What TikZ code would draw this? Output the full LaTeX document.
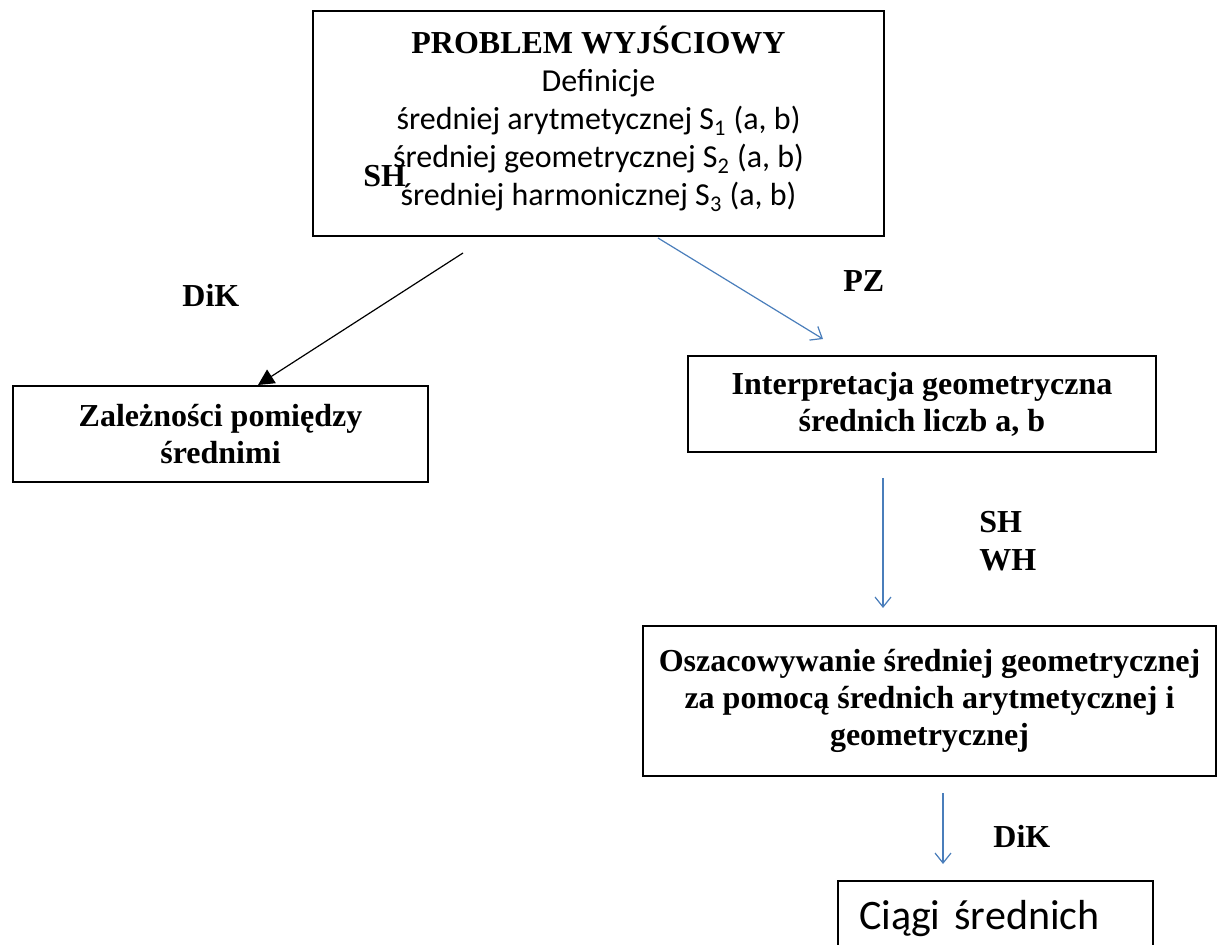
\documentclass[tikz,border=0pt]{standalone}
\usepackage{fontspec}
\setmainfont{Liberation Serif}
\newfontfamily\calibri{Carlito}
\usetikzlibrary{calc,arrows.meta}
\definecolor{wordblue}{HTML}{4A7EBB}
\tikzset{
  box/.style={draw, line width=1pt, align=center, inner sep=0pt,
    font=\fontsize{16}{18.5}\selectfont\bfseries},
  lbl/.style={anchor=base west, inner sep=0pt,
    font=\fontsize{16}{18.5}\selectfont\bfseries},
  blackarr/.style={-{Triangle[length=8pt,width=8pt]}, line width=0.6pt},
  bluearr/.style={-{Straight Barb[length=5pt,width=8pt]}, wordblue, line width=0.6pt},
}
\begin{document}
\begin{tikzpicture}[x=0.5pt,y=-0.5pt]
\clip (0,0) rectangle (1218,945);
%
\node[box, minimum width=285.5pt, minimum height=112.5pt] (start) at (598.5,123.5) {};
\node[align=center, inner sep=0pt, font=\fontsize{16}{19}\selectfont\calibri]
  (defs) at (598.5,119)
  {{\bfseries\rmfamily PROBLEM WYJŚCIOWY}\\
   Definicje\\
   średniej arytmetycznej S\textsubscript{1} (a, b)\\
   średniej geometrycznej S\textsubscript{2} (a, b)\\
   średniej harmonicznej S\textsubscript{3} (a, b)};
\node[lbl] (sh1) at (363,187) {SH};
%
\node[box, minimum width=207.5pt, minimum height=48pt] (zal) at (220.5,434)
  {Zależności pomiędzy\\ średnimi};
\node[lbl] (dik1) at (182,307) {DiK};
%
\node[box, minimum width=234pt, minimum height=48pt] (interp) at (922,404)
  {Interpretacja geometryczna\\ średnich liczb a, b};
\node[lbl] (pz) at (843,292) {PZ};
%
\node[box, minimum width=286.5pt, minimum height=75pt] (osz) at (929.5,701)
  {Oszacowywanie średniej geometrycznej\\ za pomocą średnich arytmetycznej i\\ geometrycznej};
\node[lbl] (sh2) at (979,532) {SH};
\node[lbl] (wh) at (979,570) {WH};
%
\node[box, minimum width=157.5pt, minimum height=38pt, inner xsep=10.5pt,
  text width=136.5pt, align=left, font=\fontsize{21}{25}\selectfont\calibri]
  (ciagi) at (995.5,919) {Ciągi średnich};
\node[lbl] (dik2) at (993,847) {DiK};
%
\coordinate (s1) at ($(start.south)+(-135.5,16)$);
\coordinate (s2) at ($(start.south)+(59.5,1)$);
\coordinate (s3) at ($(interp.south)+(-39,25)$);
\coordinate (s4) at ($(osz.south)+(13.5,16)$);
\draw[blackarr] (s1) -- ($(zal.north)+(37.5,0)$);
\draw[bluearr] (s2) -- ($(interp.north)+(-99,-16)$);
\draw[bluearr] (s3) -- ($(osz.north)+(-46.5,-17)$);
\draw[bluearr] (s4) -- ($(ciagi.north)+(-52.5,-16)$);
\end{tikzpicture}
\end{document}
